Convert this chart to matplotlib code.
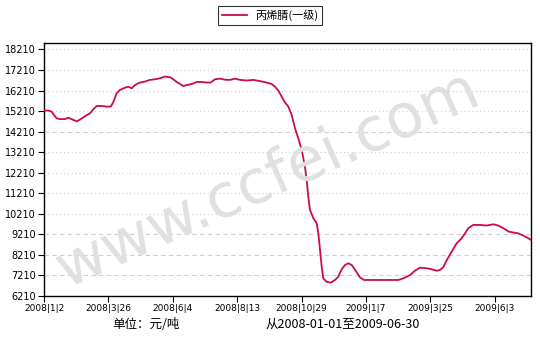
import matplotlib
matplotlib.use("Agg")
import matplotlib.pyplot as plt
from matplotlib.lines import Line2D

plt.rcParams['font.family'] = ['DejaVu Sans', 'Noto Sans CJK SC']

series_name = "丙烯腈(一级)"
unit_text = "单位：元/吨"
range_text = "从2008-01-01至2009-06-30"

# trading-day index and price (yuan/ton)
day_idx = [0, 3.3, 6, 7.8, 9.9, 12.4, 16.3, 18.9, 21.5, 25.4, 28, 30.5, 33.2, 35.7,
           38.3, 40.9, 44.8, 48.7, 51.8, 53.8, 56.4, 59, 62.9, 65.5, 68.1, 70.7,
           73.2, 74.5, 78.4, 82.3, 86.2, 90.1, 93.9, 97.8, 100.4, 103, 105.6,
           108.2, 110.8, 114.7, 118.6, 122.4, 126.3, 129.4, 132.8, 136.6, 140.5,
           144.4, 148.3, 152.2, 157.4, 162.5, 167.7, 172.9, 176.8, 179.3, 181.9,
           184.5, 187.1, 189.7, 192.3, 194.9, 197.4, 200.1, 202.6, 203.9, 205.2,
           206.5, 209.1, 211.7, 213, 214.3, 215.6, 216.8, 219.5, 222.6, 225.9,
           228.5, 231.1, 233.7, 236.3, 238.9, 241.5, 245.3, 248.4, 258.3, 271.2,
           275.1, 279, 284.2, 288, 291.9, 295.8, 299.7, 304.9, 307.5, 310, 312.7,
           316.6, 320.4, 324.3, 326.9, 329.4, 333.3, 338.5, 343.7, 348.8, 352.7,
           356.6, 360.5, 364.4, 368.3, 372.1, 376, 378.1]
price = [15240, 15240, 15180, 15010, 14860, 14820, 14820, 14890, 14820, 14710,
         14800, 14900, 15020, 15100, 15300, 15460, 15460, 15430, 15430, 15640,
         16080, 16240, 16350, 16400, 16320, 16480, 16570, 16600, 16650, 16730,
         16760, 16810, 16890, 16860, 16760, 16630, 16530, 16430, 16480, 16530,
         16630, 16630, 16600, 16600, 16760, 16790, 16740, 16730, 16790, 16730,
         16700, 16730, 16670, 16600, 16530, 16400, 16210, 15920, 15630, 15430,
         15020, 14370, 13890, 13320, 12510, 11860, 11050, 10400, 10000, 9750,
         9260, 8450, 7640, 7070, 6900, 6860, 6990, 7150, 7510, 7720, 7800, 7720,
         7480, 7120, 6990, 6990, 6990, 6990, 7070, 7230, 7440, 7590, 7570, 7530,
         7440, 7480, 7610, 7960, 8370, 8780, 9020, 9260, 9510, 9670, 9670, 9640,
         9700, 9640, 9510, 9350, 9300, 9260, 9150, 9020, 8940]

xtick_pos = [0, 50, 100, 150, 200, 250, 300, 350]
xtick_labels = ["2008|1|2", "2008|3|26", "2008|6|4", "2008|8|13",
                "2008|10|29", "2009|1|7", "2009|3|25", "2009|6|3"]
ytick_vals = [6210, 7210, 8210, 9210, 10210, 11210, 12210, 13210, 14210,
              15210, 16210, 17210, 18210]
dashed_grid = [7210, 8210, 9210, 14210]

W, H = 540, 351
fig = plt.figure(figsize=(W / 100, H / 100), dpi=100)
ax = fig.add_axes([44 / W, (H - 296) / H, (531 - 44) / W, (296 - 43) / H])

line_color = '#cc0a4a'

for v in ytick_vals[1:]:
    ls = (0, (4, 3)) if v in dashed_grid else (0, (1, 2.5))
    ax.axhline(v, color='#cfcfcf', lw=0.8, ls=ls, zorder=1)

fig.text(268 / W, 1 - 180 / H, "www.ccfei.com", fontsize=44, color='#e0e0e0',
         rotation=24, ha='center', va='center', family='DejaVu Sans', zorder=0)

ax.plot(day_idx, price, color=line_color, lw=1.3, zorder=3)
ax.patch.set_alpha(0)

ax.set_xlim(0, 378.1)
ax.set_ylim(6210, 18526)
ax.set_yticks(ytick_vals)
ax.set_yticklabels([str(v) for v in ytick_vals], fontsize=7)
ax.set_xticks(xtick_pos)
ax.set_xticklabels(xtick_labels, fontsize=6.5)
ax.tick_params(axis='both', direction='out', length=4, width=0.8, color='black', pad=2)
for s in ax.spines.values():
    s.set_linewidth(1.0)
    s.set_color('black')

handle = Line2D([], [], color=line_color, lw=1.3)
leg = fig.legend([handle], [series_name], loc='center', bbox_to_anchor=(0.5, 1 - 15.5 / H),
                 prop={'family': ['Noto Sans CJK SC', 'DejaVu Sans'], 'size': 8},
                 frameon=True, fancybox=False, handlelength=2.3, borderpad=0.35,
                 handletextpad=0.7)
leg.get_frame().set_edgecolor('black')
leg.get_frame().set_linewidth(0.8)

fig.text(146 / W, 1 - 324 / H, unit_text, fontsize=9, ha='center', va='center',
         family=['Noto Sans CJK SC', 'DejaVu Sans'])
fig.text(343 / W, 1 - 324 / H, range_text, fontsize=9, ha='center', va='center',
         family=['Noto Sans CJK SC', 'DejaVu Sans'])

fig.savefig("out.png", dpi=100)
